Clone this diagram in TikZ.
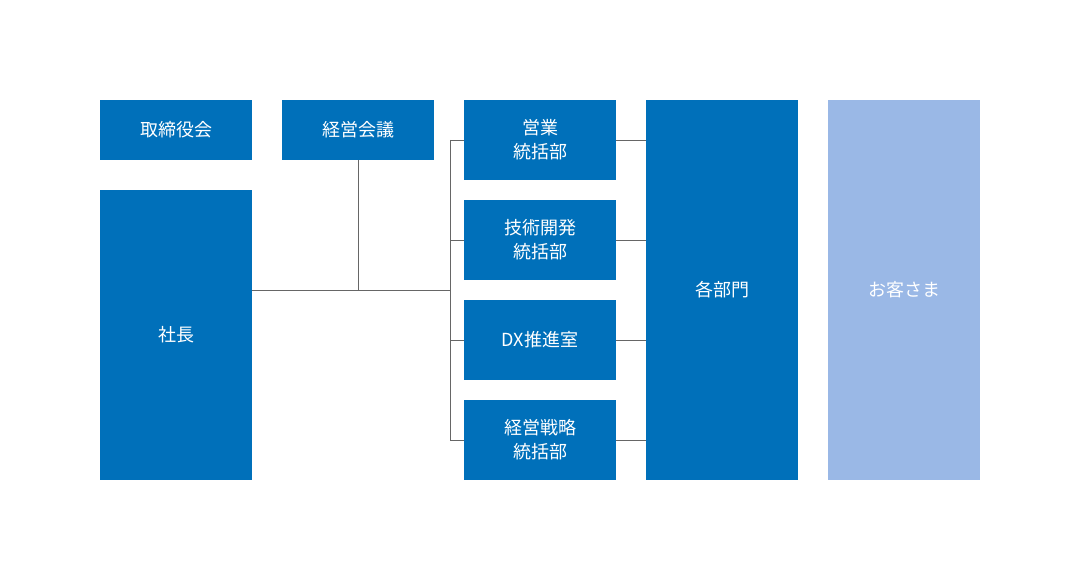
\documentclass[tikz,border=0pt]{standalone}
\usepackage{fontspec}
\newfontfamily\cjk{Noto Sans CJK JP}
\definecolor{mainblue}{HTML}{0070BA}
\definecolor{lightblue}{HTML}{9AB8E6}
\definecolor{linegray}{HTML}{666666}
\begin{document}
\begin{tikzpicture}[x=1pt,y=-1pt,
  box/.style={fill=mainblue,text=white,minimum width=152pt,align=center,inner sep=0pt,font=\cjk\fontsize{18}{24}\selectfont},
  conn/.style={draw=linegray,line width=0.8pt}]
\useasboundingbox (0,0) rectangle (1080,580);
\node[box,minimum height=60pt] (tori) at (176,130) {取締役会};
\node[box,minimum height=60pt] (keiei) at (358,130) {経営会議};
\node[box,minimum height=290pt] (shacho) at (176,335) {社長};
\node[box,minimum height=80pt] (eigyo) at (540,140) {営業\\統括部};
\node[box,minimum height=80pt] (gijutsu) at (540,240) {技術開発\\統括部};
\node[box,minimum height=80pt] (dx) at (540,340) {DX推進室};
\node[box,minimum height=80pt] (senryaku) at (540,440) {経営戦略\\統括部};
\node[box,minimum height=380pt] (kaku) at (722,290) {各部門};
\node[box,minimum height=380pt,fill=lightblue] (okyaku) at (904,290) {お客さま};
\coordinate (j) at (450,290);
\coordinate (k) at (358,290);
\coordinate (t) at (450,140);
\coordinate (b) at (450,440);
\draw[conn] (shacho.east |- j) -- (j);
\draw[conn] (keiei.south) -- (k);
\draw[conn] (t) -- (b);
\foreach \n in {eigyo,gijutsu,dx,senryaku}{
  \draw[conn] (t |- \n.west) -- (\n.west);
  \draw[conn] (\n.east) -- (kaku.west |- \n.east);
}
\end{tikzpicture}
\end{document}
